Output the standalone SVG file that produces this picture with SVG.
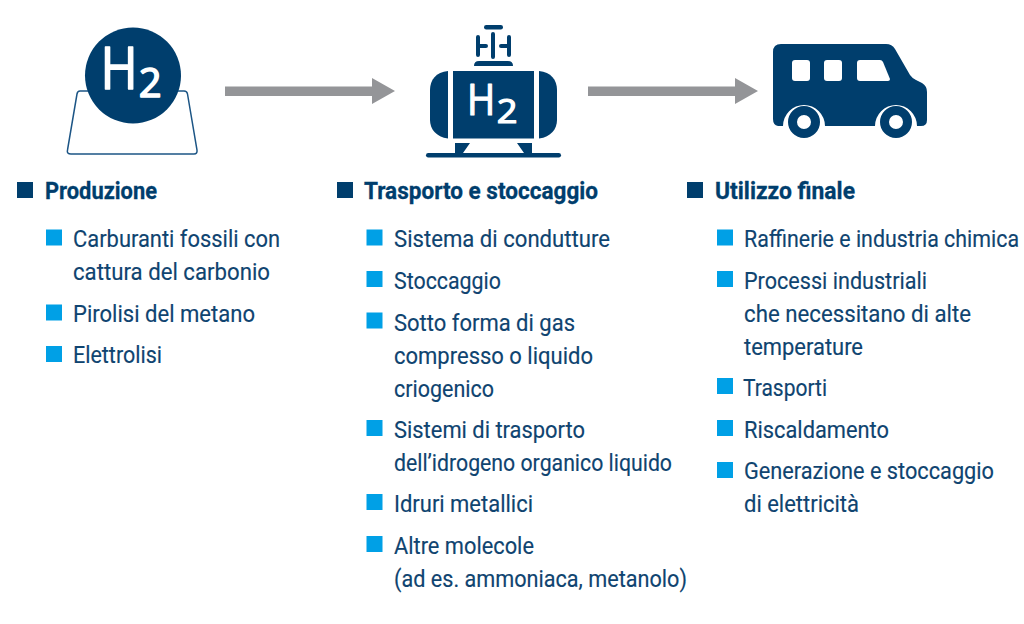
<svg xmlns="http://www.w3.org/2000/svg" width="1024" height="624" viewBox="0 0 1024 624">
<style>
text{font-family:"Roboto","Liberation Sans",sans-serif;fill:#0f4470;font-size:23.500px;stroke:#0f4470;stroke-width:.15px}
.h{font-weight:700;fill:#003e6d;font-size:23px;stroke:#003e6d;stroke-width:.3px}
.d{fill:#003e6d}
.b{fill:#00a0e6}
.a{fill:#949598}
.w{fill:#fff;stroke:#fff;stroke-linejoin:round;font-family:"Open Sans","Liberation Sans",sans-serif}
</style>
<rect width="1024" height="624" fill="#fff"/>
<g id="connectors">
<path class="a" d="M225 86.500H372V78L395 91 372 104V96H225Z"/>
<path class="a" d="M588 86.500H735V78L758 91 735 104V96H588Z"/>
</g>
<g id="icon-production">
<path d="M80 91H184Q187 91 187.500 94L197 150Q197.500 154 194 154H71Q66.500 154 67.500 150L77 94Q77.500 91 80 91Z" fill="#fff" stroke="#1c5585" stroke-width="1.500"/>
<circle class="d" cx="133" cy="75.500" r="48"/>
<text class="w" transform="translate(100.500 89) scale(.87 1)" style="font-size:58px;stroke-width:1.500px">H</text>
<text class="w" x="138.800" y="96.500" style="font-size:40px;stroke-width:1.500px">2</text>
</g>
<g id="icon-storage">
<rect class="d" x="484" y="25" width="19" height="4.500" rx="2.200"/>
<path d="M493 34V57M478 37V55M509 37V55M478 46H486M501 46H509" stroke="#003e6d" stroke-width="4" stroke-linecap="round" fill="none"/>
<path class="d" d="M474 66Q474 61 479 61H508Q513 61 513 66Z"/>
<rect class="d" x="453" y="71" width="81" height="67.500"/>
<path class="d" d="M448 71V138.500C436 137 430 129 430 120V90C430 80 436 72 448 71Z"/>
<path class="d" d="M539 71V138.500C551 137 557 129 557 120V90C557 80 551 72 539 71Z"/>
<rect class="d" x="426" y="153" width="135" height="4.500" rx="2.200"/>
<path class="d" d="M455 143H470L463 153H455ZM517 143H532V153H524Z"/>
<text class="w" transform="translate(467 115) scale(.87 1)" style="font-size:44px;stroke-width:1.200px">H</text>
<text class="w" transform="translate(496.800 122.500) scale(1.100 1)" style="font-size:33px;stroke-width:1.200px">2</text>
</g>
<g id="icon-vehicle">
<path class="d" d="M781 44H886Q892 44 895 49L910 75Q912 78 916 80L922 83Q927 86 927 92V120Q927 126 921 126H917A21 21 0 0 0 875 126H825A21 21 0 0 0 783 126H778Q773 125 773 119V52Q773 44 781 44Z"/>
<circle cx="804" cy="122" r="11.500" fill="none" stroke="#003e6d" stroke-width="9"/>
<circle cx="896" cy="122" r="11.500" fill="none" stroke="#003e6d" stroke-width="9"/>
<rect x="792" y="60" width="18" height="21" rx="3" fill="#fff"/>
<rect x="824" y="60" width="18" height="21" rx="3" fill="#fff"/>
<path fill="#fff" d="M860 60H880Q882 60 883 62L890 79Q890 81 888 81H860Q857 81 857 78V63Q857 60 860 60Z"/>
</g>
<g id="col-produzione">
<rect class="d" x="17" y="182" width="16" height="16"/>
<text class="h" x="45" y="198.500" textLength="112" lengthAdjust="spacingAndGlyphs">Produzione</text>
<rect class="b" x="46" y="229.500" width="16" height="16"/>
<text x="73" y="246.500" textLength="207" lengthAdjust="spacingAndGlyphs">Carburanti fossili con</text>
<text x="73" y="279.500" textLength="197" lengthAdjust="spacingAndGlyphs">cattura del carbonio</text>
<rect class="b" x="46" y="304.500" width="16" height="16"/>
<text x="73" y="321.500" textLength="182" lengthAdjust="spacingAndGlyphs">Pirolisi del metano</text>
<rect class="b" x="46" y="346" width="16" height="16"/>
<text x="73" y="362.500" textLength="89" lengthAdjust="spacingAndGlyphs">Elettrolisi</text>
</g>
<g id="col-trasporto">
<rect class="d" x="337" y="182" width="16" height="16"/>
<text class="h" x="364" y="198.500" textLength="234" lengthAdjust="spacingAndGlyphs">Trasporto e stoccaggio</text>
<rect class="b" x="366.500" y="229.500" width="16" height="16"/>
<text x="394" y="246.500" textLength="216" lengthAdjust="spacingAndGlyphs">Sistema di condutture</text>
<rect class="b" x="366.500" y="271" width="16" height="16"/>
<text x="394" y="288.500" textLength="107" lengthAdjust="spacingAndGlyphs">Stoccaggio</text>
<rect class="b" x="366.500" y="312.500" width="16" height="16"/>
<text x="394" y="330.500" textLength="181" lengthAdjust="spacingAndGlyphs">Sotto forma di gas</text>
<text x="394" y="363.500" textLength="199" lengthAdjust="spacingAndGlyphs">compresso o liquido</text>
<text x="394" y="396.500" textLength="100" lengthAdjust="spacingAndGlyphs">criogenico</text>
<rect class="b" x="366.500" y="420" width="16" height="16"/>
<text x="394" y="437.500" textLength="191" lengthAdjust="spacingAndGlyphs">Sistemi di trasporto</text>
<text x="394" y="470.500" textLength="278" lengthAdjust="spacingAndGlyphs">dell’idrogeno organico liquido</text>
<rect class="b" x="366.500" y="494" width="16" height="16"/>
<text x="394" y="511.500" textLength="139" lengthAdjust="spacingAndGlyphs">Idruri metallici</text>
<rect class="b" x="366.500" y="536" width="16" height="16"/>
<text x="394" y="553.500" textLength="140" lengthAdjust="spacingAndGlyphs">Altre molecole</text>
<text x="394" y="586.500" textLength="293" lengthAdjust="spacingAndGlyphs">(ad es. ammoniaca, metanolo)</text>
</g>
<g id="col-utilizzo">
<rect class="d" x="687" y="182" width="16" height="16"/>
<text class="h" x="715" y="198.500" textLength="140" lengthAdjust="spacingAndGlyphs">Utilizzo finale</text>
<rect class="b" x="717" y="229.500" width="16" height="16"/>
<text transform="translate(744 246.500) scale(.91 1)">Raffinerie e industria chimica</text>
<rect class="b" x="717" y="271" width="16" height="16"/>
<text x="744" y="288.500" textLength="183" lengthAdjust="spacingAndGlyphs">Processi industriali</text>
<text x="744" y="321.500" textLength="227" lengthAdjust="spacingAndGlyphs">che necessitano di alte</text>
<text x="744" y="354.500" textLength="119" lengthAdjust="spacingAndGlyphs">temperature</text>
<rect class="b" x="717" y="378" width="16" height="16"/>
<text x="743" y="395.500" textLength="84" lengthAdjust="spacingAndGlyphs">Trasporti</text>
<rect class="b" x="717" y="420" width="16" height="16"/>
<text x="744" y="437.500" textLength="145" lengthAdjust="spacingAndGlyphs">Riscaldamento</text>
<rect class="b" x="717" y="462" width="16" height="16"/>
<text x="744" y="478.500" textLength="250" lengthAdjust="spacingAndGlyphs">Generazione e stoccaggio</text>
<text x="744" y="511.500" textLength="115" lengthAdjust="spacingAndGlyphs">di elettricità</text>
</g>
</svg>
